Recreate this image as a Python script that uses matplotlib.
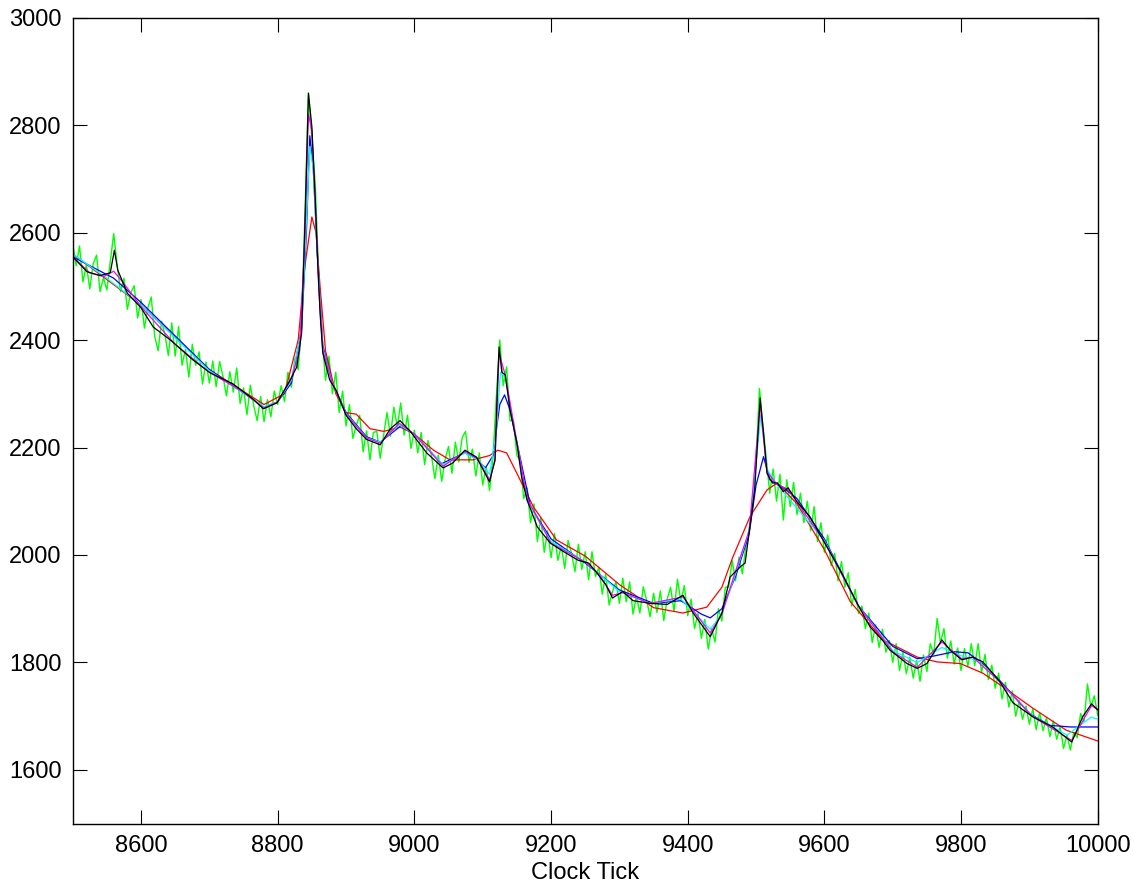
import numpy as np
import matplotlib
matplotlib.use("Agg")
import matplotlib.pyplot as plt

plt.rcParams['font.family'] = ['Liberation Sans', 'DejaVu Sans']

# raw samples (green), every 5 clock ticks from 8500 to 10000
raw_tick = np.arange(8500, 10001, 5)
raw_val = [
    2580, 2538, 2575, 2508, 2540, 2495, 2542, 2558, 2490, 2516, 2493, 2545, 2598, 2540, 2490, 2515, 2457, 2488, 2501, 2441, 2475,
    2422, 2460, 2480, 2407, 2380, 2435, 2410, 2371, 2432, 2370, 2425, 2353, 2382, 2331, 2392, 2353, 2378, 2318, 2359, 2320,
    2361, 2313, 2360, 2332, 2296, 2341, 2303, 2348, 2282, 2311, 2261, 2316, 2277, 2250, 2295, 2248, 2289, 2257, 2305, 2280,
    2315, 2285, 2340, 2312, 2365, 2345, 2430, 2640, 2860, 2775, 2690, 2520, 2405, 2325, 2370, 2300, 2340, 2265, 2305, 2240,
    2280, 2217, 2241, 2260, 2192, 2231, 2177, 2228, 2230, 2180, 2222, 2265, 2221, 2275, 2238, 2283, 2223, 2260, 2198, 2232,
    2190, 2228, 2168, 2213, 2185, 2142, 2186, 2137, 2178, 2202, 2152, 2210, 2173, 2219, 2230, 2172, 2197, 2147, 2190, 2130,
    2165, 2120, 2180, 2295, 2400, 2315, 2350, 2250, 2250, 2185, 2175, 2105, 2125, 2060, 2095, 2025, 2070, 2005, 2045, 1995,
    2040, 1990, 2017, 1975, 2027, 2003, 1969, 2020, 1973, 2006, 1954, 2006, 1960, 1977, 1927, 1964, 1907, 1932, 1950, 1910,
    1957, 1913, 1950, 1890, 1923, 1892, 1941, 1915, 1885, 1929, 1893, 1933, 1878, 1918, 1940, 1895, 1955, 1914, 1943, 1887,
    1918, 1863, 1891, 1845, 1880, 1825, 1863, 1838, 1900, 1877, 1940, 1940, 1990, 1952, 1996, 1965, 2015, 2050, 2085, 2175,
    2310, 2240, 2180, 2115, 2160, 2100, 2150, 2065, 2140, 2090, 2135, 2075, 2115, 2060, 2100, 2045, 2090, 2025, 2060, 2005,
    2037, 1980, 2003, 1952, 1988, 1940, 1967, 1905, 1936, 1891, 1905, 1863, 1892, 1837, 1870, 1828, 1862, 1819, 1841, 1800,
    1835, 1785, 1819, 1779, 1810, 1771, 1804, 1765, 1814, 1783, 1835, 1815, 1882, 1837, 1863, 1808, 1840, 1797, 1827, 1785,
    1826, 1793, 1835, 1794, 1835, 1781, 1815, 1768, 1795, 1752, 1780, 1732, 1763, 1717, 1747, 1700, 1729, 1694, 1719, 1685,
    1714, 1675, 1707, 1673, 1697, 1662, 1691, 1657, 1680, 1640, 1665, 1637, 1670, 1660, 1705, 1690, 1760, 1717, 1738, 1702,
]

# cyan filter
cyan_tick = [8500, 8550, 8600, 8700, 8780, 8800, 8820, 8835, 8842, 8847, 8852, 8858, 8866, 8880, 8900, 8930,
             8950, 8978, 9000, 9042, 9074, 9095, 9110, 9120, 9126, 9133, 9150, 9165, 9200, 9250, 9300, 9345,
             9390, 9433, 9450, 9470, 9490, 9507, 9516, 9530, 9600, 9650, 9700, 9736, 9772, 9801, 9832, 9857,
             9905, 9955, 9990, 10000]
cyan_val = [2560, 2515, 2465, 2343, 2276, 2285, 2325, 2420, 2620, 2760, 2720, 2560, 2385, 2320, 2263, 2218,
            2210, 2242, 2225, 2168, 2190, 2175, 2150, 2230, 2340, 2330, 2210, 2100, 2025, 1987, 1932, 1910,
            1918, 1862, 1890, 1965, 2045, 2260, 2160, 2132, 2027, 1905, 1822, 1800, 1828, 1812, 1800, 1763,
            1700, 1665, 1698, 1695]

# magenta filter
mag_tick = [8500, 8525, 8545, 8560, 8575, 8600, 8650, 8700, 8750, 8780, 8800, 8820, 8832, 8840, 8845, 8850,
            8855, 8860, 8866, 8880, 8900, 8930, 8950, 8978, 9000, 9042, 9074, 9092, 9110, 9118, 9124, 9133,
            9150, 9165, 9200, 9250, 9270, 9290, 9305, 9345, 9393, 9433, 9450, 9470, 9490, 9506, 9516, 9530,
            9547, 9600, 9650, 9700, 9736, 9772, 9801, 9817, 9857, 9905, 9962, 9991, 10000]
mag_val = [2555, 2525, 2518, 2528, 2505, 2462, 2392, 2340, 2303, 2273, 2285, 2328, 2380, 2600, 2820, 2790,
           2660, 2500, 2380, 2320, 2262, 2218, 2208, 2245, 2225, 2165, 2193, 2180, 2140, 2175, 2375, 2335,
           2210, 2105, 2022, 1987, 1965, 1925, 1930, 1910, 1922, 1855, 1890, 1970, 2045, 2280, 2155, 2132,
           2122, 2025, 1905, 1820, 1791, 1838, 1807, 1810, 1764, 1699, 1655, 1720, 1712]

# blue filter
blue_tick = [8500, 8560, 8600, 8700, 8780, 8800, 8820, 8835, 8842, 8847, 8852, 8858, 8866, 8880, 8900, 8930,
             8950, 8980, 9000, 9040, 9074, 9090, 9104, 9115, 9125, 9132, 9140, 9155, 9170, 9200, 9250, 9300,
             9350, 9390, 9420, 9433, 9450, 9470, 9490, 9500, 9511, 9520, 9540, 9560, 9600, 9650, 9700, 9736,
             9760, 9790, 9810, 9832, 9860, 9900, 9930, 9960, 10000]
blue_val = [2555, 2515, 2470, 2345, 2275, 2285, 2320, 2420, 2600, 2780, 2720, 2560, 2390, 2320, 2265, 2220,
            2210, 2240, 2225, 2170, 2190, 2180, 2162, 2185, 2280, 2298, 2270, 2180, 2090, 2030, 1985, 1935,
            1910, 1915, 1890, 1883, 1900, 1960, 2040, 2130, 2183, 2140, 2125, 2105, 2030, 1905, 1830, 1807,
            1812, 1820, 1818, 1798, 1762, 1705, 1683, 1680, 1680]

# red filter
red_tick = [8500, 8600, 8700, 8780, 8810, 8830, 8840, 8850, 8856, 8862, 8870, 8885, 8900, 8915, 8935, 8955,
            8979, 9000, 9028, 9052, 9086, 9110, 9122, 9135, 9150, 9174, 9208, 9250, 9300, 9350, 9393, 9428,
            9450, 9466, 9491, 9516, 9531, 9560, 9600, 9638, 9686, 9736, 9765, 9799, 9832, 9861, 9905, 9954,
            10000]
red_val = [2560, 2465, 2345, 2280, 2300, 2400, 2540, 2629, 2600, 2500, 2380, 2300, 2265, 2262, 2235, 2230,
           2238, 2225, 2195, 2177, 2177, 2185, 2195, 2190, 2152, 2090, 2028, 1998, 1945, 1902, 1892, 1903,
           1940, 1996, 2071, 2121, 2134, 2095, 2010, 1913, 1842, 1810, 1801, 1798, 1780, 1755, 1715, 1674,
           1654]

# black filter
black_tick = [8500, 8521, 8540, 8555, 8561, 8566, 8580, 8600, 8618, 8643, 8676, 8701, 8735, 8764, 8779, 8799,
              8818, 8828, 8835, 8840, 8845, 8850, 8855, 8858, 8862, 8866, 8876, 8886, 8900, 8915, 8930, 8950,
              8965, 8979, 8994, 9018, 9042, 9056, 9074, 9091, 9110, 9118, 9122, 9124, 9128, 9133, 9140, 9150,
              9157, 9165, 9180, 9199, 9220, 9240, 9255, 9265, 9280, 9290, 9305, 9320, 9345, 9370, 9393, 9408,
              9433, 9450, 9462, 9477, 9484, 9491, 9498, 9503, 9506, 9511, 9516, 9524, 9531, 9540, 9547, 9560,
              9579, 9598, 9623, 9648, 9667, 9686, 9696, 9721, 9736, 9750, 9772, 9784, 9801, 9817, 9832, 9857,
              9876, 9905, 9934, 9962, 9978, 9991, 10000]
black_val = [2555, 2527, 2520, 2525, 2567, 2530, 2487, 2460, 2424, 2400, 2363, 2339, 2318, 2290, 2272, 2283,
             2325, 2350, 2413, 2623, 2859, 2797, 2660, 2560, 2450, 2376, 2326, 2305, 2260, 2235, 2215, 2205,
             2235, 2250, 2230, 2190, 2162, 2171, 2195, 2182, 2136, 2177, 2330, 2387, 2340, 2335, 2270, 2208,
             2145, 2102, 2052, 2022, 2005, 1990, 1985, 1970, 1945, 1920, 1932, 1915, 1910, 1908, 1925, 1892,
             1848, 1892, 1959, 1978, 1985, 2052, 2121, 2227, 2292, 2227, 2152, 2134, 2134, 2118, 2125, 2099,
             2071, 2028, 1972, 1910, 1866, 1840, 1823, 1798, 1789, 1798, 1842, 1823, 1805, 1810, 1801, 1764,
             1725, 1699, 1680, 1652, 1699, 1723, 1712]

fig = plt.figure(figsize=(11.34, 8.86), dpi=100)
ax = fig.add_axes([0.0641, 0.0703, 0.9039, 0.9099])

ax.plot(raw_tick, raw_val, color='#00ff00', lw=1.0)
ax.plot(red_tick, red_val, color='#ff0000', lw=0.9)
ax.plot(blue_tick, blue_val, color='#0000ff', lw=0.9)
ax.plot(cyan_tick, cyan_val, color='#00ffff', lw=0.9)
ax.plot(mag_tick, mag_val, color='#ff00ff', lw=0.9)
ax.plot(black_tick, black_val, color='#000000', lw=0.9)

ax.set_xlim(8500, 10000)
ax.set_ylim(1500, 3000)
ax.set_xticks(range(8600, 10001, 200))
ax.set_yticks(range(1600, 3001, 200))
ax.tick_params(direction='in', length=10, width=0.8, top=True, right=True,
               labelsize=17, pad=8)
for s in ax.spines.values():
    s.set_linewidth(1.0)
ax.set_xlabel('Clock Tick', fontsize=17, labelpad=4)

fig.savefig('out.png', dpi=100)
